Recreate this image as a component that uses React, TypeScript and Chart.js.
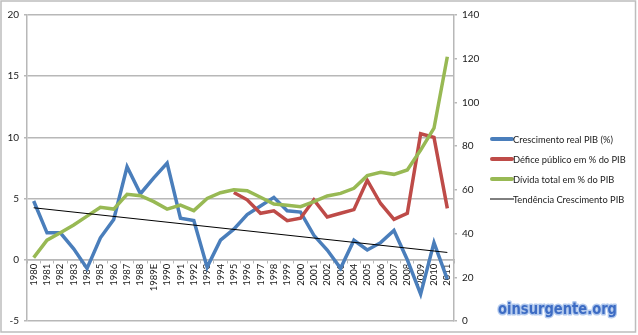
import React, { useEffect, useRef } from 'react';
import { Chart, registerables } from 'chart.js';
Chart.register(...registerables);

const years = ['1980','1981','1982','1983','1984','1985','1986','1987','1988','1989E','1990','1991','1992','1993','1994','1995','1996','1997','1998','1999','2000','2001','2002','2003','2004','2005','2006','2007','2008','2009','2010','2011'];
const growth = [4.8, 2.2, 2.2, 0.9, -0.7, 1.8, 3.3, 7.6, 5.4, 6.7, 7.9, 3.4, 3.2, -0.6, 1.6, 2.5, 3.7, 4.4, 5.1, 4.0, 3.9, 2.0, 0.8, -0.7, 1.6, 0.8, 1.4, 2.4, 0.0, -2.8, 1.4, -1.6];
const deficit = [null, null, null, null, null, null, null, null, null, null, null, null, null, null, null, 5.5, 4.9, 3.8, 4.0, 3.2, 3.4, 4.9, 3.5, 3.8, 4.1, 6.5, 4.6, 3.3, 3.8, 10.3, 10.0, 4.2];
const debt = [29, 37, 40.4, 43.9, 48, 52, 51.2, 58, 57.3, 54.6, 51.2, 53, 50.5, 56.1, 58.7, 60, 59.6, 56.6, 53.5, 53, 52.3, 54.6, 57.2, 58.4, 60.7, 66.5, 68, 67.1, 69.1, 78.2, 88.2, 120.9];
const trendStart = 4.25;
const trendEnd = 0.6;
const trend = years.map((_, i) => (i === 0 ? trendStart : i === years.length - 1 ? trendEnd : null));

const leftTicks = { min: -5, max: 20, step: 5 };
const rightTicks = { min: 0, max: 140, step: 20 };

const seriesNames = ['Crescimento real PIB (%)', 'Défice público em % do PIB', 'Dívida total em % do PIB', 'Tendência Crescimento PIB'];
const seriesColors = ['#4A7EBB', '#BE4B48', '#98B954', '#000000'];
const watermark = 'oinsurgente.org';

const FONT = 'Lato, "Open Sans", sans-serif';
const GRID = '#b8b8b8';

const decor = {
  id: 'decor',
  beforeDraw(chart: any) {
    const ctx = chart.ctx;
    ctx.save();
    ctx.fillStyle = '#ffffff';
    ctx.fillRect(0, 0, chart.width, chart.height);
    ctx.restore();
  },
  afterDraw(chart: any) {
    const ctx = chart.ctx;
    ctx.save();
    // legend
    const lx = 492;
    const ys = [139, 159, 179, 199];
    seriesNames.forEach((name, i) => {
      ctx.beginPath();
      ctx.strokeStyle = seriesColors[i];
      ctx.lineWidth = i === 3 ? 1 : 4;
      ctx.lineCap = i === 3 ? 'butt' : 'round';
      ctx.moveTo(i === 3 ? lx - 2 : lx, ys[i]);
      ctx.lineTo(i === 3 ? lx + 22 : lx + 20, ys[i]);
      ctx.stroke();
      ctx.fillStyle = '#1a1a1a';
      ctx.font = '9.3px ' + FONT;
      ctx.textBaseline = 'middle';
      ctx.textAlign = 'left';
      ctx.fillText(name, lx + 21, ys[i] + 0.5);
    });
    // watermark
    ctx.font = 'bold 16px "DejaVu Sans"';
    const w = ctx.measureText(watermark).width;
    ctx.translate(498, 314);
    ctx.scale(119 / w, 1);
    ctx.lineJoin = 'round';
    ctx.strokeStyle = 'rgba(170,195,235,0.9)';
    ctx.lineWidth = 3;
    ctx.textBaseline = 'alphabetic';
    ctx.strokeText(watermark, 0, 0);
    ctx.fillStyle = '#3D6CC4';
    ctx.fillText(watermark, 0, 0);
    ctx.restore();
    // frame
    ctx.save();
    ctx.strokeStyle = '#bdbdbd';
    ctx.lineWidth = 1.5;
    ctx.strokeRect(1, 1, 634.5, 331);
    ctx.restore();
  },
};

export default function App() {
  const ref = useRef<HTMLCanvasElement>(null);
  useEffect(() => {
    document.body.style.margin = '0';
    const chart = new Chart(ref.current!, {
      type: 'line',
      data: {
        labels: years,
        datasets: [
          { label: seriesNames[0], data: growth, borderColor: seriesColors[0], borderWidth: 3.5, pointRadius: 0, tension: 0, yAxisID: 'y', order: 3 },
          { label: seriesNames[1], data: deficit, borderColor: seriesColors[1], borderWidth: 3.5, pointRadius: 0, tension: 0, yAxisID: 'y', order: 2 },
          { label: seriesNames[2], data: debt, borderColor: seriesColors[2], borderWidth: 3.5, pointRadius: 0, tension: 0, yAxisID: 'y1', order: 1 },
          { label: seriesNames[3], data: trend, borderColor: seriesColors[3], borderWidth: 1, pointRadius: 0, tension: 0, yAxisID: 'y', spanGaps: true, order: 0 },
        ],
      },
      options: {
        animation: false,
        responsive: false,
        devicePixelRatio: 1,
        layout: { padding: { left: 0, top: 15, bottom: 14, right: 148 } },
        plugins: { legend: { display: false }, tooltip: { enabled: false } },
        scales: {
          x: {
            type: 'category',
            position: { y: 0 } as any,
            offset: true,
            grid: { display: true, drawOnChartArea: false, drawTicks: true, tickLength: 3, offset: true, color: GRID },
            border: { display: true, color: GRID, width: 1.5 },
            ticks: { autoSkip: false, maxRotation: 90, minRotation: 90, padding: 1, color: '#1a1a1a', font: { family: FONT, size: 9.5 } },
          },
          y: {
            position: 'left',
            min: leftTicks.min,
            max: leftTicks.max,
            afterFit: (s: any) => { s.width = 27; },
            grid: { color: GRID, lineWidth: 1.5, tickLength: 3 },
            border: { display: true, color: GRID, width: 1.5 },
            ticks: { stepSize: leftTicks.step, padding: 5, color: '#1a1a1a', font: { family: FONT, size: 10 } },
          },
          y1: {
            position: 'right',
            min: rightTicks.min,
            max: rightTicks.max,
            afterFit: (s: any) => { s.width = 36; },
            grid: { drawOnChartArea: false, color: GRID, lineWidth: 1.5, tickLength: 3 },
            border: { display: true, color: GRID, width: 1.5 },
            ticks: { stepSize: rightTicks.step, padding: 5, color: '#1a1a1a', font: { family: FONT, size: 10 } },
          },
        },
      },
      plugins: [decor],
    });
    return () => chart.destroy();
  }, []);
  return <canvas ref={ref} width={638} height={335} style={{ display: 'block' }} />;
}
